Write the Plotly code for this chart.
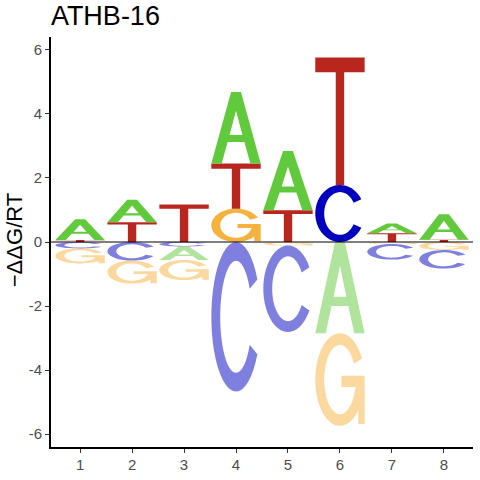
import numpy as np
import plotly.graph_objects as go

# energy logo for ATHB-16 (-ddG/RT per base and position)
positions = [1, 2, 3, 4, 5, 6, 7, 8]
energy_A = [0.65, 0.70, -0.42, 2.23, 1.85, -2.85, 0.31, 0.80]
energy_C = [-0.20, -0.58, -0.14, -4.67, -2.70, 1.78, -0.49, -0.58]
energy_G = [-0.47, -0.72, -0.63, 1.04, -0.11, -2.89, -0.06, -0.25]
energy_T = [0.06, 0.62, 1.17, 1.41, 0.99, 3.98, 0.27, 0.07]
y_ticks = [-6, -4, -2, 0, 2, 4, 6]
y_tick_text = ["-6", "-4", "-2", "0", "2", "4", "6"]

colors = {"A": "#61c93c", "C": "#0000c0", "G": "#f5b23d", "T": "#b8261e"}
LETTER_W = 0.95


def arc(cx, cy, rx, ry, a0, a1, n=40):
    t = np.radians(np.linspace(a0, a1, n))
    return list(zip(cx + rx * np.cos(t), cy + ry * np.sin(t)))


def glyph(letter):
    # letter outlines in a unit box, each item is one closed sub-path
    if letter == "A":
        outer = [(0, 0), (0.21, 0), (0.33, 0.30), (0.67, 0.30), (0.79, 0),
                 (1, 0), (0.60, 1), (0.40, 1)]
        hole = [(0.37, 0.40), (0.63, 0.40), (0.5, 0.74)]
        return [outer, hole]
    if letter == "T":
        return [[(0, 1), (1, 1), (1, 0.885), (0.585, 0.885), (0.585, 0),
                 (0.415, 0), (0.415, 0.885), (0, 0.885)]]
    if letter == "C":
        outer = arc(0.5, 0.5, 0.5, 0.5, 30, 330)
        inner = arc(0.5, 0.5, 0.32, 0.375, 330, 30)
        return [outer + inner]
    # G
    outer = arc(0.5, 0.5, 0.5, 0.5, 27, 318)
    bar = [(0.87, 0.02), (1.0, 0.02), (1.0, 0.54), (0.53, 0.54), (0.53, 0.42),
           (0.82, 0.42)]
    inner = arc(0.5, 0.5, 0.32, 0.375, 338, 27)
    return [outer + bar + inner]


def letter_path(letter, xc, y0, h):
    parts = []
    for poly in glyph(letter):
        pts = [(xc - LETTER_W / 2 + gx * LETTER_W, y0 + gy * h) for gx, gy in poly]
        parts.append("M " + " L ".join(f"{x:.4f},{y:.4f}" for x, y in pts) + " Z")
    return " ".join(parts)


fig = go.Figure()
# invisible trace so the axes exist
fig.add_trace(go.Scatter(x=positions, y=[0] * len(positions), mode="markers",
                         marker=dict(opacity=0), hoverinfo="skip", showlegend=False))

shapes = []
energies = {"A": energy_A, "C": energy_C, "G": energy_G, "T": energy_T}
for i, pos in enumerate(positions):
    vals = [(b, energies[b][i]) for b in "ACGT"]
    # positive stack: smallest next to zero
    top = 0.0
    for b, v in sorted([bv for bv in vals if bv[1] > 0], key=lambda bv: bv[1]):
        shapes.append(dict(type="path", path=letter_path(b, pos, top, v),
                           fillcolor=colors[b], line=dict(width=0), layer="above"))
        top += v
    bottom = 0.0
    for b, v in sorted([bv for bv in vals if bv[1] < 0], key=lambda bv: -bv[1]):
        shapes.append(dict(type="path", path=letter_path(b, pos, bottom + v, -v),
                           fillcolor=colors[b], opacity=0.5, line=dict(width=0),
                           layer="above"))
        bottom += v

# zero line
shapes.append(dict(type="line", xref="paper", x0=0, x1=1, y0=0, y1=0,
                   line=dict(color="black", width=1.2), layer="above"))

axis_style = dict(showgrid=False, zeroline=False, showline=True, linecolor="black",
                  linewidth=1.6, ticks="outside", ticklen=4, tickcolor="#333333",
                  tickwidth=1.2, tickfont=dict(size=15, color="#4d4d4d"))

fig.update_layout(
    width=480, height=480,
    plot_bgcolor="white", paper_bgcolor="white",
    font=dict(family="Liberation Sans, Arial, sans-serif"),
    margin=dict(l=51, r=7, t=37, b=29),
    title=dict(text="ATHB-16", font=dict(size=27, color="black"),
               xref="container", x=0.106, xanchor="left",
               yref="container", y=0.9675, yanchor="middle"),
    shapes=shapes,
    showlegend=False,
)
fig.update_xaxes(range=[0.44, 8.56], tickvals=positions, ticklabelstandoff=-1,
                 **axis_style)
fig.update_yaxes(range=[-6.4, 6.4], tickvals=y_ticks, ticktext=y_tick_text,
                 **axis_style)

fig.add_annotation(text="\u2212\u0394\u0394G/RT", textangle=-90, showarrow=False,
                   xref="paper", yref="paper", x=-0.088, y=0.504,
                   xanchor="center", yanchor="middle",
                   font=dict(size=22, color="black"))

# drop the default page margin so the figure sits at the window corner
fig.write_html("out.html", config={"displayModeBar": False},
               post_script="document.body.style.margin='0';")
